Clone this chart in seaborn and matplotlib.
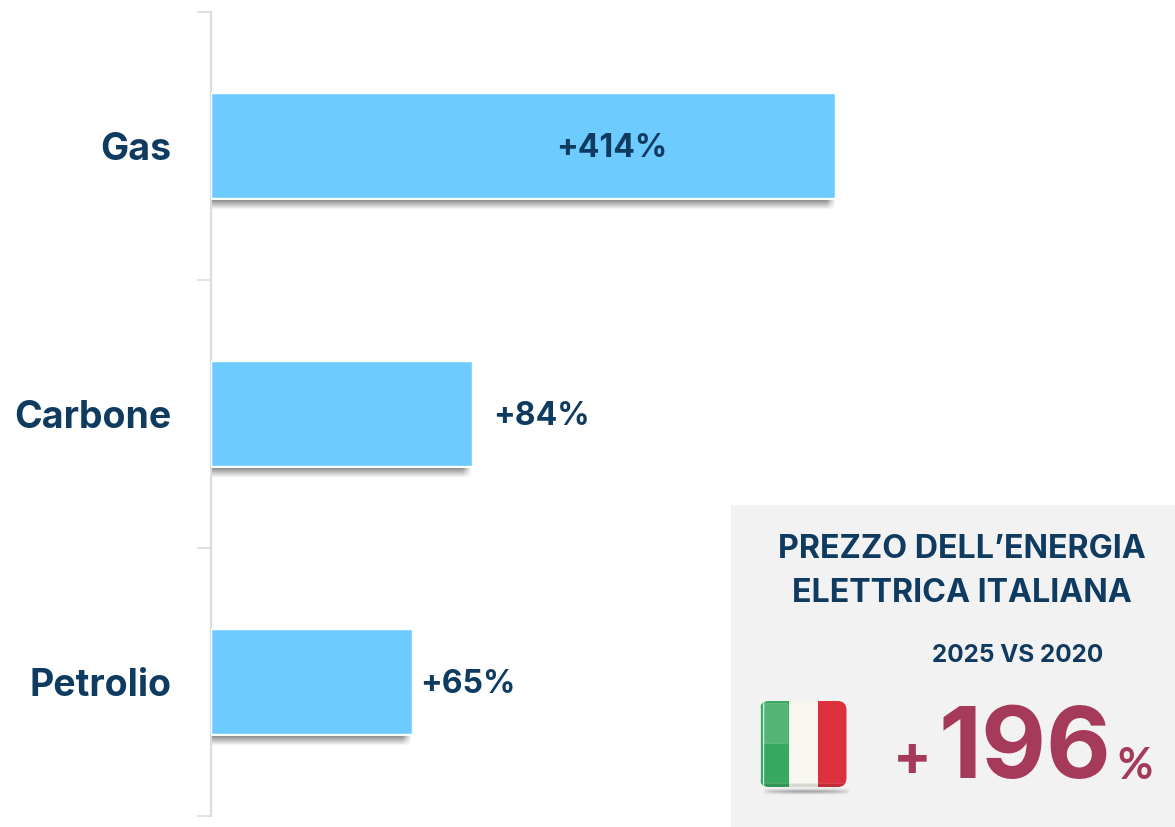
import numpy as np
import pandas as pd
import seaborn as sns
import matplotlib.pyplot as plt
from matplotlib.patches import FancyBboxPatch, Rectangle

# bar lengths (they are not to scale with the printed labels)
categories = ['Gas', 'Carbone', 'Petrolio']
bar_lengths = [414, 173, 133]
bar_labels = ['+414%', '+84%', '+65%']
label_offsets = [-279, 21, 9]

panel_title = ['PREZZO DELL\u2019ENERGIA', 'ELETTRICA ITALIANA']
panel_sub = '2025 VS 2020'
panel_value = '196'

W, H = 1175, 828
NAVY = '#0f3b60'
WINE = '#a63a5a'
FONT = 'Inter'


def fx(px):
    return px / W


def fy(px):
    return 1 - px / H


sns.set_theme(style='white')
plt.rcParams['font.family'] = [FONT, 'DejaVu Sans']

df = pd.DataFrame({'cat': categories, 'len': bar_lengths})

fig = plt.figure(figsize=(W / 100, H / 100), dpi=100, facecolor='white')
ax = fig.add_axes([fx(211), fy(816.5), fx(964), (816.5 - 12.5) / H])
ax.patch.set_alpha(0)

sns.barplot(data=df, y='cat', x='len', orient='h', color='#6ecbff', saturation=1,
            width=0.395, edgecolor='white', linewidth=1.0, ax=ax, zorder=3)

# soft shadow below each bar, fading out over the last few pixels
px_per_unit = 624.5 / 414
for p in ax.patches:
    top = p.get_y() + p.get_height()
    n = int(p.get_width() * px_per_unit)
    fade = np.r_[np.ones(n - 10), np.linspace(1, 0, 10)][None, :]
    shadow = np.zeros((12, n, 4))
    shadow[..., :3] = 0.3
    shadow[..., 3] = np.linspace(0.62, 0, 12)[:, None] * fade
    ax.imshow(shadow, extent=(0, p.get_width(), top + 0.043, top + 0.006),
              aspect='auto', interpolation='bilinear', zorder=2)

ax.set_xlim(0, 964 / px_per_unit)
ax.set_ylim(2.5, -0.5)
ax.set_xlabel('')
ax.set_ylabel('')
ax.set_xticks([])

for s in ['top', 'right', 'bottom']:
    ax.spines[s].set_visible(False)
ax.spines['left'].set_color('#dcdcdc')
ax.spines['left'].set_linewidth(1.6)

ax.set_yticks([-0.5, 0.5, 1.5, 2.5], minor=True)
ax.tick_params(axis='y', which='minor', length=10, width=1.2, color='#dcdcdc', left=True)
ax.tick_params(axis='y', which='major', length=0, pad=28.5, labelsize=27, labelcolor=NAVY)
for t in ax.get_yticklabels():
    t.set_fontweight('bold')

for i, (length, label, off) in enumerate(zip(bar_lengths, bar_labels, label_offsets)):
    ax.annotate(label, xy=(length, i), xytext=(off * 0.72, -1.6), textcoords='offset points',
                va='center', ha='left', fontsize=23, fontweight='bold', color=NAVY, zorder=5)

# grey panel bottom right
fig.add_artist(Rectangle((fx(731), 0), fx(W - 731), (H - 505.5) / H, transform=fig.transFigure,
                         facecolor='#f2f2f2', edgecolor='none', zorder=-1))
fig.text(fx(961.5), fy(550), panel_title[0], ha='center', va='center', fontsize=23.2,
         fontweight='bold', color=NAVY)
fig.text(fx(961.5), fy(594), panel_title[1], ha='center', va='center', fontsize=23.2,
         fontweight='bold', color=NAVY)
fig.text(fx(1018), fy(656), panel_sub, ha='center', va='center', fontsize=17.5,
         fontweight='bold', color=NAVY)
fig.text(fx(932), fy(776), '+', ha='right', va='baseline', fontsize=41, fontweight='bold', color=WINE)
fig.text(fx(1025), fy(778), panel_value, ha='center', va='baseline', fontsize=72,
         fontweight='bold', color=WINE)
fig.text(fx(1117), fy(779), '%', ha='left', va='baseline', fontsize=31, fontweight='bold',
         color=WINE, family='Lato')

# flag icon
fa = fig.add_axes([fx(755), fy(800), fx(96), 100 / H])
fa.axis('off')
shade = np.exp(-np.linspace(-1, 1, 24) ** 2 / 0.22)[:, None]
edge_fade = np.sin(np.linspace(0, np.pi, 40))[None, :] ** 0.5
sh = np.zeros((24, 40, 4))
sh[..., :3] = 0.35
sh[..., 3] = shade * edge_fade * 0.5
fa.imshow(sh, extent=(762, 850, 797, 788), aspect='auto', interpolation='bilinear', zorder=1)
stripes = np.array([[[0.22, 0.66, 0.38], [0.97, 0.97, 0.94], [0.87, 0.19, 0.24]]])
im = fa.imshow(stripes, extent=(760, 846.5, 788, 702), aspect='auto', interpolation='nearest', zorder=2)
clip = FancyBboxPatch((760, 702), 86.5, 86, boxstyle='round,pad=0,rounding_size=9',
                      transform=fa.transData, facecolor='none', edgecolor='none', zorder=4)
fa.add_patch(clip)
im.set_clip_path(clip)
# gloss on the upper part and dark base
gloss = fa.add_patch(Rectangle((763, 704), 24, 40, facecolor='white', alpha=0.14, zorder=3))
gloss.set_clip_path(clip)
base = fa.add_patch(Rectangle((760, 784), 87, 4, facecolor='black', alpha=0.12, zorder=3))
base.set_clip_path(clip)
edge = fa.add_patch(Rectangle((760, 702), 3, 86, facecolor='#0e9a45', alpha=0.8, zorder=3))
edge.set_clip_path(clip)
fa.set_xlim(755, 851)
fa.set_ylim(800, 700)

plt.savefig('out.png', dpi=100)
